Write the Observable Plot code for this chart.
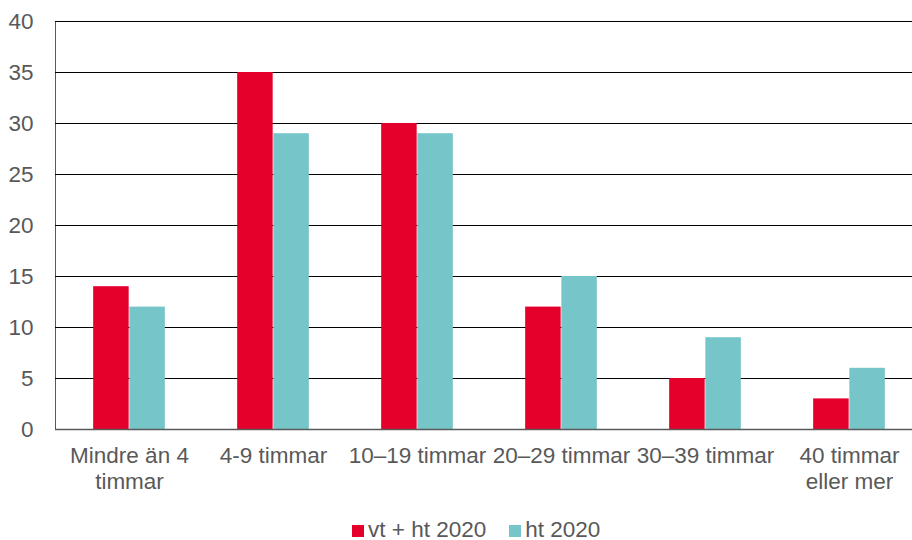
<!DOCTYPE html>
<html>
<head>
<meta charset="utf-8">
<script src="https://cdn.jsdelivr.net/npm/d3@7"></script>
<script src="https://cdn.jsdelivr.net/npm/@observablehq/plot@0.6"></script>
<style>
  body { margin: 0; background: #fff; font-family: "Liberation Sans", Arial, sans-serif; position: relative; width: 912px; height: 540px; overflow: hidden; }
  #chart { width: 912px; overflow: hidden; }
  #legend { position: absolute; left: 352px; top: 519px; height: 21px; line-height: 21px; display: flex; align-items: center; font-size: 22.5px; color: #595959; white-space: nowrap; }
  .item { display: flex; align-items: center; }
  .item + .item { margin-left: 23px; }
  .sw { width: 12px; height: 12px; margin-right: 4px; margin-top: 2px; }
</style>
</head>
<body>
<div id="chart"></div>
<div id="legend"></div>
<script>
const categories = ["Mindre än 4\ntimmar", "4-9 timmar", "10–19 timmar", "20–29 timmar", "30–39 timmar", "40 timmar\neller mer"];
const seriesNames = ["vt + ht 2020", "ht 2020"];
const seriesA = [14, 35, 30, 12, 5, 3];
const seriesB = [12, 29, 29, 15, 9, 6];
const yTicks = [0, 5, 10, 15, 20, 25, 30, 35, 40];
const colors = ["#E4002B", "#76C6C9"];

const W = 923, ML = 55, MR = 0;
const bw = (W - ML - MR) / categories.length;
const dataA = categories.map((c, i) => ({cat: c, v: seriesA[i]}));
const dataB = categories.map((c, i) => ({cat: c, v: seriesB[i]}));

const chart = Plot.plot({
  width: W,
  height: 505,
  marginLeft: ML,
  marginRight: MR,
  marginTop: 21,
  marginBottom: 76,
  style: {fontFamily: "'Liberation Sans', Arial, sans-serif", fontSize: "22.5px", color: "#595959", background: "#fff", maxWidth: "none"},
  x: {domain: categories, padding: 0, label: null},
  y: {domain: [0, 40], ticks: yTicks, label: null, tickSize: 0, tickPadding: 22, line: true},
  marks: [
    Plot.ruleY(yTicks.filter(t => t > 0), {stroke: "#000", strokeWidth: 1}),
    Plot.barY(dataA, {x: "cat", y: "v", fill: colors[0], insetLeft: bw * 0.25, insetRight: bw * 0.5}),
    Plot.barY(dataB, {x: "cat", y: "v", fill: colors[1], insetLeft: bw * 0.5, insetRight: bw * 0.25}),
    Plot.ruleY([0], {stroke: "#595959", strokeWidth: 1.5}),
    Plot.axisX({tickSize: 0, tickPadding: 16, lineHeight: 1.12, fontSize: 22.5, label: null, textOverflow: null})
  ]
});
chart.style.maxWidth = "none";
chart.querySelectorAll("[aria-label='y-axis line'] path, [aria-label='y-axis line'] line, [aria-label='y-axis line']").forEach(e => e.setAttribute("stroke", "#000"));
document.getElementById("chart").appendChild(chart);

const legend = document.getElementById("legend");
seriesNames.forEach((n, i) => {
  const it = document.createElement("div");
  it.className = "item";
  it.innerHTML = `<span class="sw" style="background:${colors[i]}"></span><span>${n}</span>`;
  legend.appendChild(it);
});
</script>
</body>
</html>
